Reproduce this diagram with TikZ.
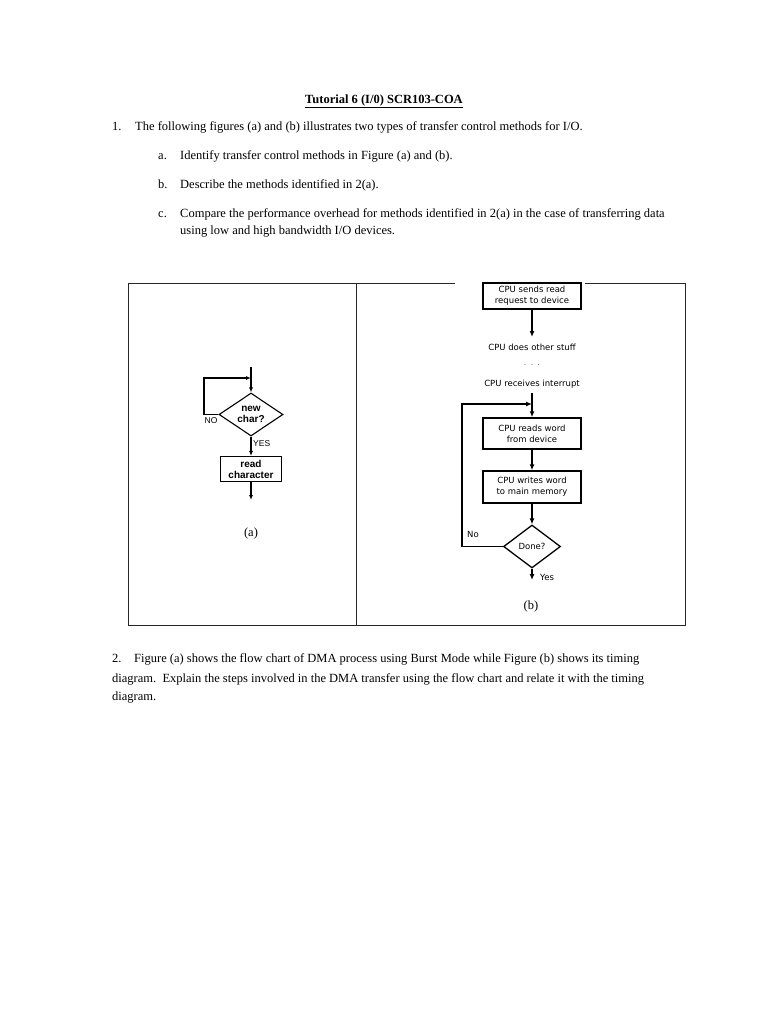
\documentclass[tikz,border=0pt]{standalone}
\usepackage{fontspec}
\setmainfont{Liberation Serif}
\newfontfamily\arialf{Liberation Sans}
\newfontfamily\dejaf{DejaVu Sans}
\usetikzlibrary{arrows.meta,shapes.geometric}
\begin{document}
\begin{tikzpicture}[x=1pt,y=-1pt,
  body/.style={anchor=mid west, inner sep=0pt, font=\fontsize{12.5}{14}\selectfont},
  captxt/.style={anchor=mid, inner sep=0pt, font=\fontsize{12.5}{14}\selectfont},
  frame/.style={line width=0.9pt, draw=black!85},
  abox/.style={draw, line width=1.1pt, minimum width=61pt, minimum height=25pt, inner sep=0pt, align=center, font=\arialf\bfseries\fontsize{10}{11}\selectfont},
  adia/.style={draw, shape=diamond, line width=1.1pt, minimum width=64pt, minimum height=43pt, inner sep=0pt, shape aspect=1.4, align=center, font=\arialf\bfseries\fontsize{10}{11}\selectfont},
  alab/.style={inner sep=0pt, font=\arialf\fontsize{8.5}{9}\selectfont},
  aarr/.style={line width=1.1pt, -{Latex[length=5pt,width=4pt]}},
  bbox/.style={draw, line width=1.5pt, minimum width=98pt, minimum height=26pt, inner sep=0pt, align=center, font=\dejaf\fontsize{8.5}{11}\selectfont},
  bdia/.style={draw, shape=diamond, line width=1.3pt, minimum width=57pt, minimum height=43pt, inner sep=0pt, shape aspect=1.3, font=\dejaf\fontsize{8.5}{10}\selectfont},
  btxt/.style={inner sep=0pt, font=\dejaf\fontsize{8.5}{10}\selectfont},
  barr/.style={line width=1.3pt, -{Latex[length=6pt,width=5pt]}}
]
\useasboundingbox[fill=white] (0,0) rectangle (768,1024);

% header text
\node[captxt, font=\bfseries\fontsize{12.5}{14}\selectfont] (title) at (384,101) {\underline{Tutorial 6 (I/0) SCR103-COA}};
\node[body] (n1) at (112,128) {1.};
\node[body] (q1) at (135,128) {The following figures (a) and (b) illustrates two types of transfer control methods for I/O.};
\node[body] (la) at (158,157) {a.};
\node[body] (qa) at (180,157) {Identify transfer control methods in Figure (a) and (b).};
\node[body] (lb) at (158,186) {b.};
\node[body] (qb) at (180,186) {Describe the methods identified in 2(a).};
\node[body] (lc) at (158,215) {c.};
\node[body] (qc1) at (180,215) {Compare the performance overhead for methods identified in 2(a) in the case of transferring data};
\node[body] (qc2) at (180,232) {using low and high bandwidth I/O devices.};

% frame
\draw[frame] (455,283) -- (128,283) -- (128,625) -- (685,625) -- (685,283) -- (585,283);
\draw[frame] (356,283) -- (356,625);

% figure (a)
\node[adia] (nc) at (251,414.5) {new\\char?};
\node[abox] (rc) at (251,469) {read\\character};
\coordinate (atop) at (251,367);
\coordinate (aj) at (251,378);
\coordinate (al1) at (204,378);
\coordinate (al2) at (204,414.5);
\coordinate (aout) at (251,500);
\draw[aarr] (atop) -- (nc.north);
\draw[aarr] (nc.west) -- (al2) -- (al1) -- (aj);
\draw[aarr] (nc.south) -- (rc.north);
\draw[aarr] (rc.south) -- (aout);
\node[alab] (no) at (211,421) {NO};
\node[alab, anchor=west] (yes) at (253,444) {YES};
\node[captxt] (capa) at (251,534) {(a)};

% figure (b)
\node[bbox] (b1) at (532,296) {CPU sends read\\request to device};
\coordinate (bc1) at (532,337);
\draw[barr] (b1.south) -- (bc1);
\node[btxt] (t1) at (532,347) {CPU does other stuff};
\node[btxt] (t2) at (532,365) {\fontsize{6}{6}\selectfont .\hspace{5pt}.\hspace{5pt}.};
\node[btxt] (t3) at (532,384) {CPU receives interrupt};
\node[bbox, minimum height=31pt] (b2) at (532,433.5) {CPU reads word\\from device};
\node[bbox, minimum height=32pt] (b3) at (532,487) {CPU writes word\\to main memory};
\node[bdia] (dn) at (532,546.5) {Done?};
\coordinate (bs) at (532,393);
\coordinate (bj) at (532,404);
\coordinate (bl1) at (462,404);
\coordinate (bl2) at (462,546.5);
\coordinate (bout) at (532,580);
\draw[barr] (bs) -- (b2.north);
\draw[barr] (b2.south) -- (b3.north);
\draw[barr] (b3.south) -- (dn.north);
\draw[barr] (dn.west) -- (bl2) -- (bl1) -- (bj);
\draw[barr] (dn.south) -- (bout);
\node[btxt] (bno) at (473,534) {No};
\node[btxt, anchor=west] (byes) at (540,577) {Yes};
\node[captxt] (capb) at (531,607) {(b)};

% question 2
\node[body] (n2) at (112,660) {2.};
\node[body] (q2a) at (134,660) {Figure (a) shows the flow chart of DMA process using Burst Mode while Figure (b) shows its timing};
\node[body] (q2b) at (112,680) {diagram.\ \ Explain the steps involved in the DMA transfer using the flow chart and relate it with the timing};
\node[body] (q2c) at (112,698) {diagram.};
\end{tikzpicture}
\end{document}
